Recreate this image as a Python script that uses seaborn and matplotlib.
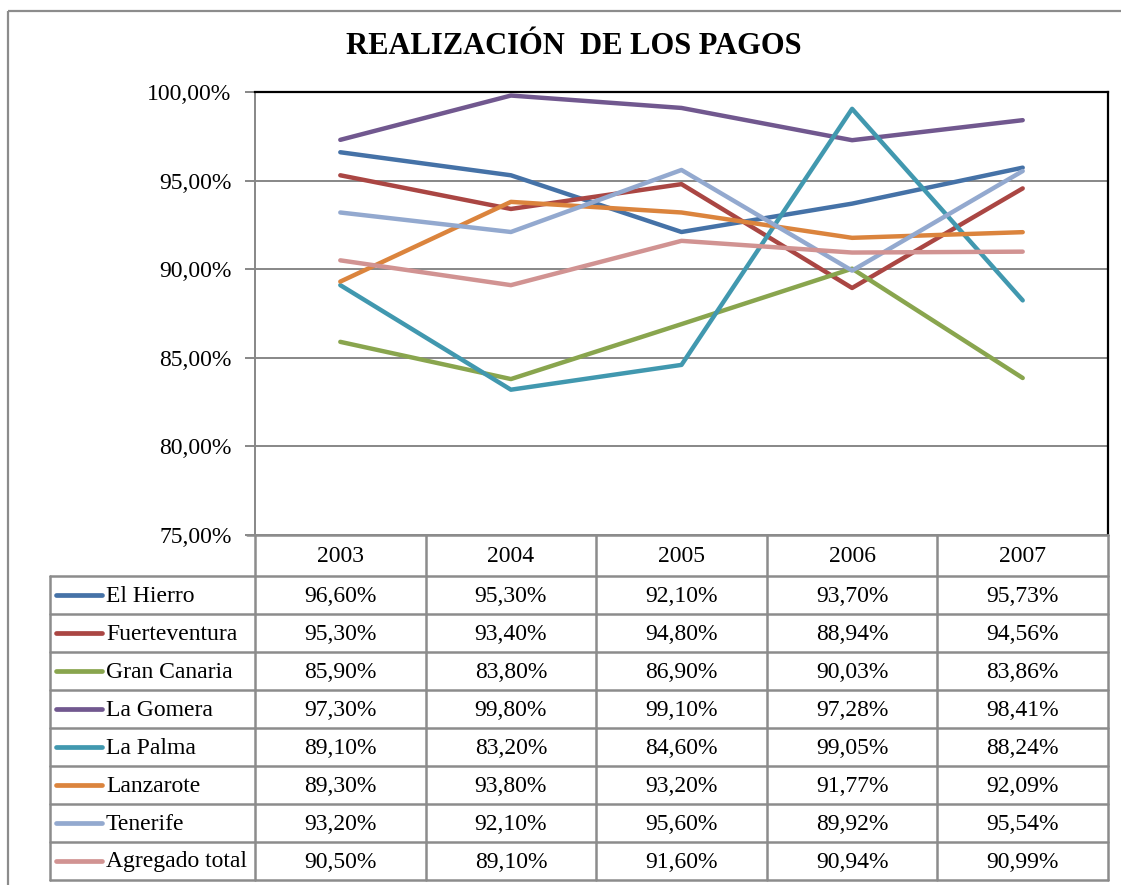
import matplotlib
matplotlib.use("Agg")
import matplotlib.pyplot as plt
import seaborn as sns
import pandas as pd
from matplotlib.patches import Rectangle

years = ["2003", "2004", "2005", "2006", "2007"]
series_names = ["El Hierro", "Fuerteventura", "Gran Canaria", "La Gomera",
                "La Palma", "Lanzarote", "Tenerife", "Agregado total"]
el_hierro = [96.60, 95.30, 92.10, 93.70, 95.73]
fuerteventura = [95.30, 93.40, 94.80, 88.94, 94.56]
gran_canaria = [85.90, 83.80, 86.90, 90.03, 83.86]
la_gomera = [97.30, 99.80, 99.10, 97.28, 98.41]
la_palma = [89.10, 83.20, 84.60, 99.05, 88.24]
lanzarote = [89.30, 93.80, 93.20, 91.77, 92.09]
tenerife = [93.20, 92.10, 95.60, 89.92, 95.54]
agregado = [90.50, 89.10, 91.60, 90.94, 90.99]
yticks = [75, 80, 85, 90, 95, 100]

colors = ["#4572A7", "#AA4643", "#89A54E", "#71588F",
          "#4198AF", "#DB843D", "#93A9CF", "#D19392"]

all_vals = [el_hierro, fuerteventura, gran_canaria, la_gomera,
            la_palma, lanzarote, tenerife, agregado]
rows = []
for name, vals in zip(series_names, all_vals):
    for i, (y, v) in enumerate(zip(years, vals)):
        rows.append({"serie": name, "idx": i, "year": y, "value": v})
df = pd.DataFrame(rows)

sns.set_style("white")
plt.rcParams["font.family"] = ["Liberation Serif", "DejaVu Serif"]
plt.rcParams["text.color"] = "black"
plt.rcParams["ytick.labelcolor"] = "black"

W, H = 1121, 885
fig = plt.figure(figsize=(W / 100, H / 100), dpi=100)

# pixel geometry
L, R, T, B = 255, 1108, 92, 535
ax = fig.add_axes([L / W, 1 - B / H, (R - L) / W, (B - T) / H])
sns.lineplot(data=df, x="idx", y="value", hue="serie", hue_order=series_names,
             palette=dict(zip(series_names, colors)), linewidth=3.2,
             legend=False, ax=ax, sort=False)
ax.set_xlim(-0.5, 4.5)
ax.set_ylim(75, 100)
ax.set_yticks(yticks)
ax.set_yticklabels([f"{t:.2f}%".replace(".", ",") for t in yticks], fontsize=17)
ax.set_xticks([])
ax.set_xlabel("")
ax.set_ylabel("")
ax.grid(axis="y", color="#878787", linewidth=1.4)
ax.set_axisbelow(True)
ax.tick_params(axis="y", length=7, width=1.4, color="#878787", pad=10,
               direction="out", left=True, labelcolor="black")
for s in ["top", "right"]:
    ax.spines[s].set_color("#000000")
    ax.spines[s].set_linewidth(1.6)
ax.spines["left"].set_color("#878787")
ax.spines["left"].set_linewidth(1.4)
ax.spines["bottom"].set_visible(False)

# overlay for title, table, border
ov = fig.add_axes([0, 0, 1, 1], zorder=-1)
ov.set_xlim(0, W)
ov.set_ylim(H, 0)
ov.axis("off")
ov.add_patch(Rectangle((8, 11), 1200, 1000, fill=False, edgecolor="#8c8c8c", linewidth=1.6))

fig.text(574 / W, 1 - 47 / H, "REALIZACIÓN  DE LOS PAGOS", ha="center", va="center",
         fontsize=22, fontweight="bold", family=["Liberation Serif"], color="black")

tab = fig.add_axes([0, 0, 1, 1], zorder=2)
tab.set_xlim(0, W)
tab.set_ylim(H, 0)
tab.axis("off")
tab.patch.set_alpha(0)

gc = "#8c8c8c"
lw = 1.8
col_w = (R - L) / 5
row_top = 576
row_h = 38.0
nrows = len(series_names)
bottom = row_top + nrows * row_h
TL = 50
tab.plot([L - 8, R], [B, B], color=gc, lw=lw)
for k in range(6):
    x = L + k * col_w
    tab.plot([x, x], [B, bottom], color=gc, lw=lw)
tab.plot([TL, TL], [row_top, bottom], color=gc, lw=lw)
for r in range(nrows + 1):
    y = row_top + r * row_h
    tab.plot([TL, R], [y, y], color=gc, lw=lw)

for k, yv in enumerate(years):
    tab.text(L + (k + 0.5) * col_w, (B + row_top) / 2 + 1, yv, ha="center",
             va="center", fontsize=17)
for r, (name, vals, c) in enumerate(zip(series_names, all_vals, colors)):
    yc = row_top + (r + 0.5) * row_h
    tab.plot([56, 102], [yc, yc], color=c, lw=3.4, solid_capstyle="round")
    tab.text(106, yc + 1, name, ha="left", va="center", fontsize=17)
    for k, v in enumerate(vals):
        tab.text(L + (k + 0.5) * col_w, yc + 1, f"{v:.2f}%".replace(".", ","),
                 ha="center", va="center", fontsize=17)

fig.savefig("out.png", dpi=100)
